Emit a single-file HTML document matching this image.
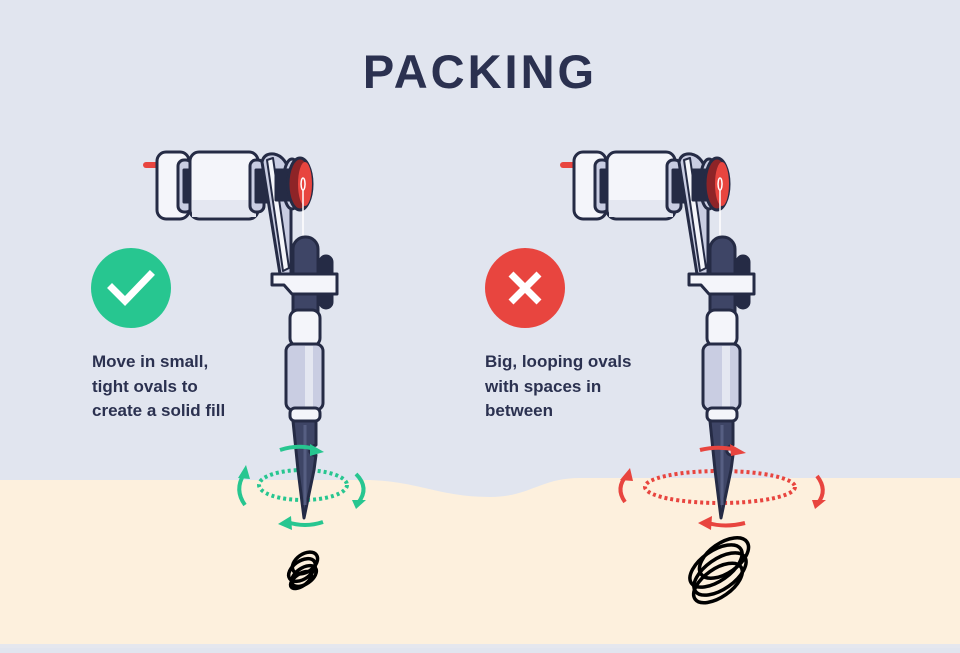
<!DOCTYPE html>
<html><head><meta charset="utf-8"><style>
html,body{margin:0;padding:0;}
body{width:960px;height:648px;overflow:hidden;background:#e1e5ef;font-family:"Liberation Sans",sans-serif;}
</style></head><body>
<svg width="960" height="648" viewBox="0 0 960 648" xmlns="http://www.w3.org/2000/svg">
<defs>
<g id="m" stroke="#252b45" stroke-width="3" stroke-linejoin="round">
  <rect x="143" y="162" width="16" height="6" rx="3" fill="#e8453f" stroke="none"/>
  <rect x="157" y="152" width="32" height="67" rx="9" fill="#f4f5fa"/>
  <rect x="178" y="160" width="14" height="52" rx="6" fill="#c9cde2"/>
  <rect x="184" y="170" width="10" height="32" fill="#252b45"/>
  <rect x="190" y="152" width="68" height="67" rx="9" fill="#f4f5fa"/>
  <rect x="192" y="200" width="64" height="17" fill="#e4e7f1" stroke="none"/>
  <rect x="250" y="160" width="14" height="52" rx="6" fill="#c9cde2"/>
  <rect x="256" y="170" width="12" height="32" fill="#252b45"/>
  <path d="M262 162 Q264 153 274 154 Q286 156 291 176 L291 274 L280 274 Z" fill="#c9cde2"/>
  <path d="M267 160 L273 158 L289 268 L283 271 Z" fill="#f4f5fa" stroke-width="2"/>
  <ellipse cx="292" cy="184" rx="9" ry="25" fill="#c9cde2"/>
  <rect x="276" y="170" width="14" height="30" fill="#252b45"/>
  <ellipse cx="300" cy="184" rx="12" ry="26" fill="#8e2427"/>
  <ellipse cx="305" cy="184" rx="7" ry="22" fill="#e8453f" stroke="none"/>
  <path d="M303 178 a2 6 0 1 0 0.1 0" fill="none" stroke="#fff" stroke-width="1.5"/>
  <line x1="303" y1="190" x2="303" y2="238" stroke="#fff" stroke-width="1.5"/>
  <rect x="293" y="237" width="25" height="120" rx="12" fill="#3e4566"/>
  <rect x="320" y="256" width="12" height="52" rx="6" fill="#252b45"/>
  <path d="M272 274 L337 274 L337 294 L292 294 L284 285 L272 285 Z" fill="#f4f5fa"/>
  <rect x="290" y="310" width="30" height="36" rx="8" fill="#f4f5fa"/>
  <rect x="286" y="344" width="37" height="66" rx="7" fill="#c9cde2"/>
  <rect x="305" y="346" width="8" height="62" fill="#e4e7f1" stroke="none"/>
  <rect x="290" y="408" width="30" height="13" rx="5" fill="#f4f5fa"/>
  <path d="M293 421 L316 421 L316 445 Q309 447 310 452 Q312 456 316 455 L314 470 L304 518 L298 470 Z" fill="#3e4566"/>
  <line x1="305" y1="425" x2="305" y2="505" stroke="#565e82" stroke-width="3"/>
</g>
</defs>
<path d="M0 480 L370 480 C420 482 440 497 490 497 C530 497 540 478 580 478 L960 478 L960 644 L0 644 Z" fill="#fdf0dd"/>
<rect x="0" y="644" width="960" height="4" fill="#e5e7ee"/>
<text x="480" y="88" text-anchor="middle" font-size="47" font-weight="bold" fill="#2b3150" letter-spacing="3">PACKING</text>

<circle cx="131" cy="288" r="40" fill="#27c690"/>
<path d="M112 288 L125 301 L150 275" fill="none" stroke="#fff" stroke-width="7" stroke-linecap="square"/>
<g font-size="17" font-weight="bold" fill="#2b3150">
<text x="92" y="367">Move in small,</text>
<text x="92" y="392">tight ovals to</text>
<text x="92" y="416">create a solid fill</text>
<text x="485" y="367">Big, looping ovals</text>
<text x="485" y="392">with spaces in</text>
<text x="485" y="416">between</text>
</g>
<circle cx="525" cy="288" r="40" fill="#e8453f"/>
<path d="M511 274 L539 302 M539 274 L511 302" stroke="#fff" stroke-width="7"/>

<ellipse cx="303" cy="485" rx="44" ry="15" fill="none" stroke="#27c690" stroke-width="4" stroke-dasharray="3 3"/>
<use href="#m"/>
<g fill="none" stroke="#27c690" stroke-width="4">
<path d="M280 450 Q298 444 315 449"/><path d="M245 505 Q234 490 244 474"/><path d="M356 474 Q370 488 358 503"/><path d="M323 522 Q305 528 287 522"/>
</g>
<g fill="#27c690">
<path d="M310 444 L324 452 L310 456 Z"/><path d="M238 478 L246 465 L250 479 Z"/><path d="M352 500 L366 500 L356 509 Z"/><path d="M291 516 L278 524 L292 530 Z"/>
</g>

<ellipse cx="720" cy="487" rx="75" ry="16" fill="none" stroke="#e8453f" stroke-width="4" stroke-dasharray="3 3"/>
<use href="#m" transform="translate(417,0)"/>
<g fill="none" stroke="#e8453f" stroke-width="4">
<path d="M700 450 Q716 446 733 449"/><path d="M625 502 Q615 488 627 475"/><path d="M817 476 Q828 490 818 503"/><path d="M745 523 Q725 528 708 523"/>
</g>
<g fill="#e8453f">
<path d="M730 444 L746 453 L731 456 Z"/><path d="M620 480 L630 468 L633 481 Z"/><path d="M812 500 L826 500 L815 509 Z"/><path d="M712 516 L698 523 L711 530 Z"/>
</g>

<g fill="none" stroke="#000" stroke-width="3.5">
<ellipse cx="305" cy="563" rx="14" ry="9" transform="rotate(-35 305 563)"/>
<ellipse cx="302" cy="570" rx="15" ry="9" transform="rotate(-35 302 570)"/>
<ellipse cx="304" cy="576" rx="14" ry="8" transform="rotate(-35 304 576)"/>
<ellipse cx="301" cy="580" rx="12" ry="6" transform="rotate(-35 301 580)"/>
<ellipse cx="724" cy="558" rx="28" ry="15" transform="rotate(-35 724 558)"/>
<ellipse cx="716" cy="566" rx="30" ry="15" transform="rotate(-35 716 566)"/>
<ellipse cx="720" cy="574" rx="30" ry="15" transform="rotate(-35 720 574)"/>
<ellipse cx="718" cy="583" rx="28" ry="14" transform="rotate(-35 718 583)"/>
</g>
</svg>
</body></html>
